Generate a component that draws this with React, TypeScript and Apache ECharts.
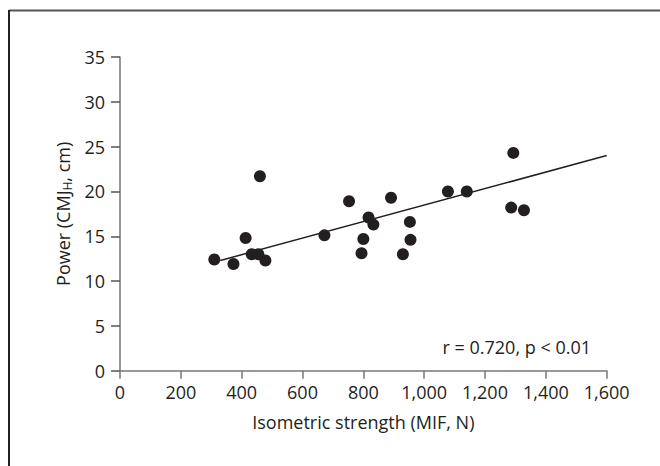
import React, { useEffect, useRef } from "react";
import * as echarts from "echarts";

const strength = [310, 373, 413, 433, 455, 460, 478, 672, 753, 794, 800, 817, 833, 891, 930, 953, 955, 1078, 1140, 1286, 1293, 1328];
const power = [12.4, 11.9, 14.8, 13.0, 13.0, 21.7, 12.3, 15.1, 18.9, 13.1, 14.7, 17.1, 16.3, 19.3, 13.0, 16.6, 14.6, 20.0, 20.0, 18.2, 24.3, 17.9];
const fitX = [330, 1600];
const fitY = [12.3, 24.0];
const annotation = "r = 0.720, p < 0.01";
const xTitle = "Isometric strength (MIF, N)";

const FONT = "'Open Sans', 'Noto Sans', sans-serif";
const INK = "#231f20";
const FS = 18;

export default function App() {
  const ref = useRef<HTMLDivElement>(null);
  useEffect(() => {
    if (!ref.current) return;
    const chart = echarts.init(ref.current, undefined, { renderer: "svg" });
    const pts = strength.map((x, i) => [x, power[i]]);
    const fit = fitX.map((x, i) => [x, fitY[i]]);
    chart.setOption({
      animation: false,
      backgroundColor: "#fff",
      textStyle: { fontFamily: FONT, color: INK },
      grid: { left: 120, top: 57, right: 53.3, bottom: 95.3, containLabel: false },
      xAxis: {
        type: "value",
        min: 0,
        max: 1600,
        interval: 200,
        name: xTitle,
        nameLocation: "middle",
        nameGap: 42,
        nameTextStyle: { fontFamily: FONT, fontSize: FS, color: INK },
        axisLine: { show: true, lineStyle: { color: "#777", width: 1.5 } },
        axisTick: { show: true, length: 8, lineStyle: { color: "#777", width: 1.5 } },
        axisLabel: {
          fontFamily: FONT,
          fontSize: FS,
          color: INK,
          margin: 12,
          formatter: (v: number) => v.toLocaleString("en-US"),
        },
        splitLine: { show: false },
      },
      yAxis: {
        type: "value",
        min: 0,
        max: 35,
        interval: 5,
        name: "{a|Power (CMJ}{sub|H}{a|, cm)}",
        nameLocation: "middle",
        nameGap: 46,
        nameRotate: 90,
        nameTextStyle: {
          fontFamily: FONT,
          fontSize: FS,
          color: INK,
          rich: {
            a: { fontFamily: FONT, fontSize: FS, color: INK },
            sub: { fontFamily: FONT, fontSize: 12, color: INK, padding: [9, 0, 0, 0] },
          },
        },
        axisLine: { show: true, lineStyle: { color: "#777", width: 1.5 } },
        axisTick: { show: true, length: 9, lineStyle: { color: "#555", width: 1.5 } },
        axisLabel: { fontFamily: FONT, fontSize: FS, color: INK, margin: 15 },
        splitLine: { show: false },
      },
      series: [
        {
          type: "line",
          data: fit,
          symbol: "none",
          lineStyle: { color: INK, width: 1.5 },
          z: 2,
        },
        {
          type: "scatter",
          data: pts,
          symbol: "circle",
          symbolSize: 12,
          itemStyle: { color: INK, opacity: 1 },
          z: 3,
        },
      ],
      graphic: [
        {
          type: "line",
          shape: { x1: 9, y1: 10.5, x2: 660, y2: 10.5 },
          style: { stroke: "#555", lineWidth: 2 },
        },
        {
          type: "line",
          shape: { x1: 9, y1: 10, x2: 9, y2: 466 },
          style: { stroke: "#222", lineWidth: 2 },
        },
        {
          type: "text",
          x: 591,
          y: 347,
          style: {
            text: annotation,
            fontFamily: FONT,
            fontSize: FS,
            fill: INK,
            align: "right",
            verticalAlign: "middle",
          },
        },
      ],
    });
    return () => chart.dispose();
  }, []);
  return (
    <div
      ref={ref}
      style={{ position: "fixed", left: 0, top: 0, width: 660, height: 466 }}
    />
  );
}
